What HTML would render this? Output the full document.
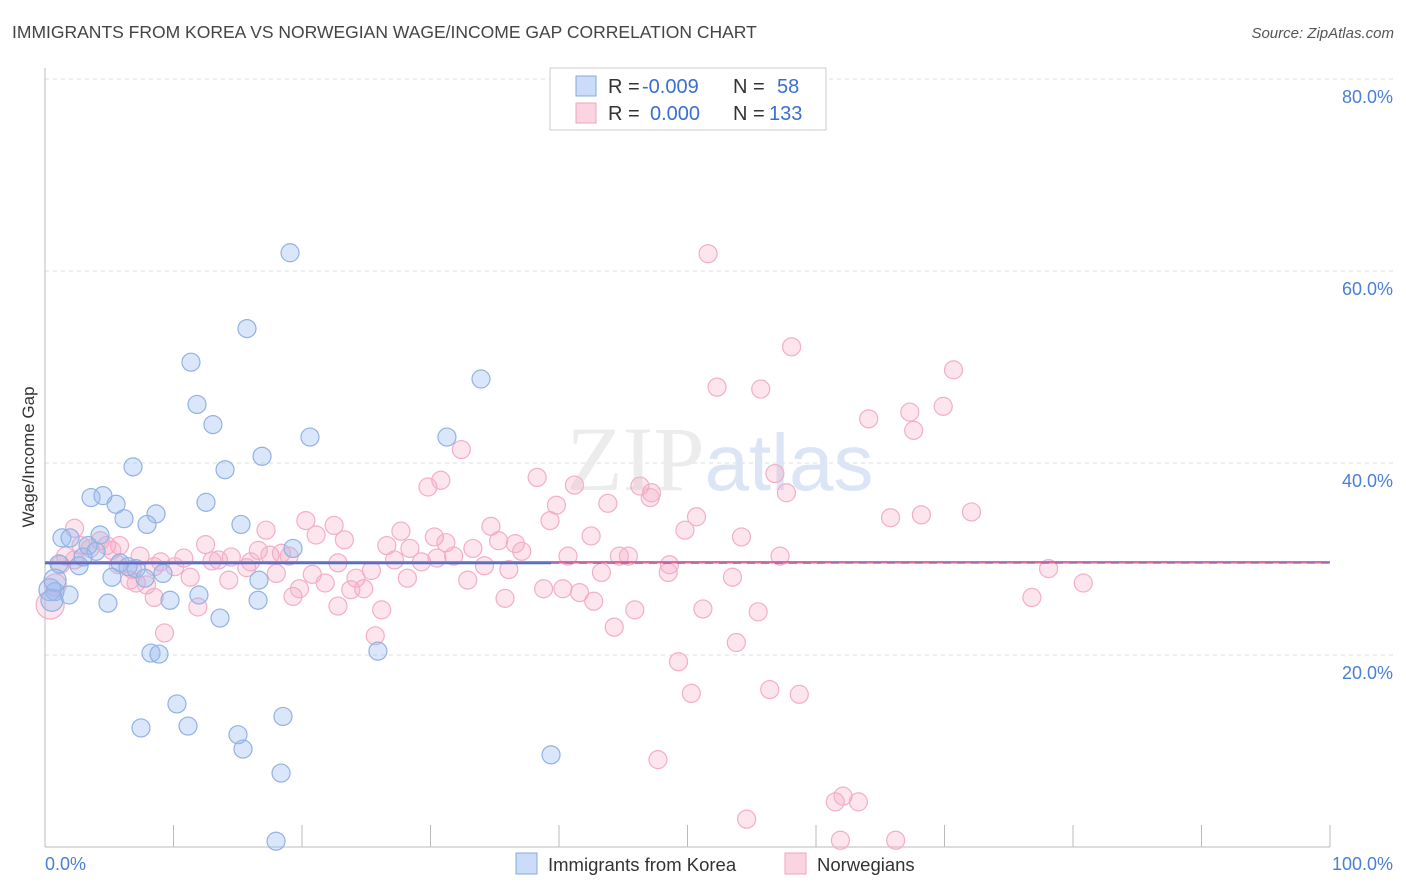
<!DOCTYPE html>
<html><head><meta charset="utf-8">
<style>
body{margin:0;background:#fff;font-family:"Liberation Sans",sans-serif;}
#wrap{position:relative;width:1406px;height:892px;overflow:hidden;}
.t{position:absolute;white-space:nowrap;}
</style></head><body>
<div id="wrap">
<div class="t" style="left:12px;top:22px;font-size:17.5px;color:#444;">IMMIGRANTS FROM KOREA VS NORWEGIAN WAGE/INCOME GAP CORRELATION CHART</div>
<div class="t" style="right:12px;top:25px;font-size:15px;color:#555;font-style:italic;">Source: ZipAtlas.com</div>
<svg id="svg" width="1406" height="892" style="position:absolute;left:0;top:0"></svg>
</div>
<script>
const blueX=[19.07,15.72,11.36,33.93,11.83,13.07,20.62,31.28,16.89,6.85,14.01,3.58,4.51,5.53,12.53,8.64,6.15,7.94,15.25,4.28,1.32,1.95,19.3,3.35,3.97,2.96,1.09,5.84,6.46,2.65,7.08,9.18,7.78,5.21,16.65,1.87,11.98,0.78,9.73,4.9,16.58,13.62,8.25,8.87,25.91,10.27,11.13,7.47,18.52,15.02,15.41,39.38,18.37,17.98,0.39,0.54,0.78];
const blueY=[61.9,54.0,50.5,48.75,46.1,44.0,42.7,42.7,40.7,39.6,39.3,36.4,36.6,35.7,35.9,34.7,34.2,33.6,33.6,32.5,32.2,32.2,31.1,31.4,30.8,30.2,29.5,29.6,29.2,29.3,29.0,28.5,28.0,28.1,27.8,26.25,26.25,26.6,25.7,25.4,25.7,23.85,20.2,20.1,20.4,14.9,12.6,12.4,13.6,11.7,10.2,9.6,7.7,0.6,26.8,25.7,27.8];
const pinkX=[51.6,58.1,70.7,52.3,55.7,69.9,67.3,64.1,67.6,32.4,56.8,38.3,30.8,29.8,46.3,41.2,47.2,57.7,47.1,43.8,39.8,65.8,68.2,72.1,50.7,20.3,2.3,22.5,34.7,39.3,17.2,27.7,49.8,54.2,42.5,30.3,21.1,23.3,35.3,26.6,31.2,33.3,36.6,37.1,4.8,5.8,2.8,4.3,1.6,1.2,7.4,10.8,13.0,13.5,16.6,18.4,14.5,16.0,40.7,44.7,45.4,57.2,31.8,22.8,27.2,29.3,34.2,36.1,48.6,48.5,8.5,10.1,15.7,25.4,43.3,18.0,20.8,11.3,6.6,7.1,7.9,14.3,24.2,28.2,32.9,53.5,78.1,80.8,19.8,21.8,23.8,24.8,38.8,40.3,41.6,19.3,35.8,42.7,76.8,8.5,11.9,22.8,26.2,45.9,51.2,55.5,44.3,9.3,25.7,53.8,49.3,50.3,56.4,58.7,47.7,54.6,61.5,62.1,63.3,61.9,66.2,0.4,0.8,2.3,3.5,5.2,5.7,6.8,9.0,12.5,17.5,19.0,30.5,28.4];
const pinkY=[61.8,52.1,49.7,47.9,47.7,45.9,45.3,44.6,43.4,41.4,38.9,38.5,38.2,37.5,37.6,37.7,36.9,36.9,36.4,35.8,35.6,34.3,34.6,34.9,34.4,34.0,33.2,33.5,33.4,34.0,33.0,32.9,33.0,32.3,32.4,32.3,32.5,32.0,31.9,31.4,31.7,31.1,31.6,30.8,31.4,31.4,31.4,31.9,30.3,29.4,30.3,30.1,29.8,29.9,30.9,30.6,30.2,29.7,30.3,30.3,30.3,30.3,30.3,29.6,29.9,29.7,29.3,28.9,29.4,28.6,29.2,29.2,29.1,28.8,28.6,28.5,28.4,28.1,27.8,27.5,27.3,27.8,28.0,28.0,27.8,28.1,29.0,27.5,26.9,27.5,26.8,26.9,26.9,26.9,26.5,26.1,25.9,25.6,26.0,26.0,25.0,25.1,24.7,24.7,24.8,24.5,22.9,22.3,22.0,21.3,19.3,16.0,16.4,15.9,9.1,2.9,4.7,5.3,4.7,0.7,0.7,25.2,27.3,29.9,31.1,30.9,29.4,28.9,29.7,31.5,30.4,30.3,30.1,31.1];
const yTicks=[20,40,60,80];
const yTickLabels=["20.0%","40.0%","60.0%","80.0%"];
const xTickLabels=["0.0%","100.0%"];
const legendR=["-0.009","0.000"];
const legendN=["58","133"];

const L=45,R=1330,T=68,B=847;
const sx=v=>L+(R-L)*v/100;
const sy=v=>B-(B-79)*v/80;
const svg=document.getElementById('svg');
const NS='http://www.w3.org/2000/svg';
function mk(tag,attrs,parent){const e=document.createElementNS(NS,tag);for(const k in attrs)e.setAttribute(k,attrs[k]);(parent||svg).appendChild(e);return e;}

yTicks.forEach((v,i)=>{
 const g=mk('line',{x1:L,x2:1393,y1:sy(v),y2:sy(v),stroke:'#dcdcdc','stroke-dasharray':'4,4'});
 
 
 const t=mk('text',{x:1393,y:sy(v)+24,'text-anchor':'end','font-size':'18',fill:'#4a7fd6','font-family':'Liberation Sans'});
 t.textContent=yTickLabels[i];
 
 
});
const ax=mk('line',{x1:L,x2:L,y1:T,y2:B,stroke:'#bbb'});


const bx=mk('line',{x1:L,x2:R,y1:B,y2:B,stroke:'#bbb'});


for(let i=1;i<=10;i++){
 const tk=mk('line',{x1:sx(i*10),x2:sx(i*10),y1:825,y2:B,stroke:'#bbb'});
 
 
}
const xl0=mk('text',{x:45,y:870,'font-size':'18',fill:'#4a7fd6','font-family':'Liberation Sans'});
xl0.textContent=xTickLabels[0];


const xl1=mk('text',{x:1393,y:870,'text-anchor':'end','font-size':'18',fill:'#4a7fd6','font-family':'Liberation Sans'});
xl1.textContent=xTickLabels[1];


const yt=mk('text',{x:0,y:0,'font-size':'17',fill:'#333','font-family':'Liberation Sans','text-anchor':'middle',transform:'translate(34,457) rotate(-90)'});
yt.textContent='Wage/Income Gap';



const wm=mk('text',{x:720,y:490,'text-anchor':'middle','font-size':'92',fill:'#ececec','font-family':'Liberation Serif'});
wm.innerHTML='ZIP<tspan fill="#dbe5f5" font-family="Liberation Sans" font-size="80">atlas</tspan>';



function reg(xs,ys){const n=xs.length;let mx=0,my=0;for(let i=0;i<n;i++){mx+=xs[i];my+=ys[i];}mx/=n;my/=n;let sxy=0,sxx=0;for(let i=0;i<n;i++){sxy+=(xs[i]-mx)*(ys[i]-my);sxx+=(xs[i]-mx)**2;}const b=sxy/sxx;return [my-b*mx,b];}

pinkX.forEach((x,i)=>{
 const c=mk('circle',{cx:sx(x),cy:sy(pinkY[i]),r:i>=121&&i<=122?(i==121?14:11):9,fill:'rgba(246,170,196,0.3)',stroke:'#f3aec6','stroke-width':1.2});
 
 
});
blueX.forEach((x,i)=>{
 const c=mk('circle',{cx:sx(x),cy:sy(blueY[i]),r:i>=54?11:9,fill:'rgba(150,185,240,0.35)',stroke:'#92b2e2','stroke-width':1.2});
 
 
});
const pm=pinkY.reduce((a,b)=>a+b,0)/pinkY.length;
const pt=mk('line',{x1:sx(0),y1:sy(pm),x2:sx(100),y2:sy(pm),stroke:'#e8659a','stroke-width':2.5});


const bmax=Math.max(...blueX);
const [ba,bb]=reg(blueX,blueY);
const bt1=mk('line',{x1:sx(0),y1:sy(ba),x2:sx(bmax),y2:sy(ba+bb*bmax),stroke:'#3a74d8','stroke-width':2});


const bt2=mk('line',{x1:sx(bmax),y1:sy(ba+bb*bmax),x2:sx(100),y2:sy(ba+bb*100),stroke:'#3a74d8','stroke-width':1,'stroke-dasharray':'8,6'});



const lg=mk('g',{});


mk('rect',{x:550,y:68,width:276,height:62,fill:'#fff',stroke:'#ccc'},lg);
[['rgba(150,185,240,0.5)','#86a9de'],['rgba(246,170,196,0.5)','#f1a3bf']].forEach((c,i)=>{
 const y=76+i*27;
 mk('rect',{x:576,y:y,width:20,height:20,fill:c[0],stroke:c[1]},lg);
 const t=mk('text',{x:608,y:y+17,'font-size':'20',fill:'#333','font-family':'Liberation Sans'},lg);
 t.innerHTML='R = <tspan fill="#3a6fd0" x="'+(i==0?642:650)+'">'+legendR[i]+'</tspan><tspan fill="#333" x="733">N = </tspan><tspan fill="#3a6fd0" x="'+(i==0?777:769)+'">'+legendN[i]+'</tspan>';
 
 
});
const bl=mk('g',{});


mk('rect',{x:516,y:853,width:21,height:21,fill:'rgba(150,185,240,0.5)',stroke:'#86a9de'},bl);
const t1=mk('text',{x:548,y:871,'font-size':'18.5',fill:'#333','font-family':'Liberation Sans'},bl);
t1.textContent='Immigrants from Korea';


mk('rect',{x:785,y:853,width:21,height:21,fill:'rgba(246,170,196,0.5)',stroke:'#f1a3bf'},bl);
const t2=mk('text',{x:817,y:871,'font-size':'18.5',fill:'#333','font-family':'Liberation Sans'},bl);
t2.textContent='Norwegians';


</script>
</body></html>
